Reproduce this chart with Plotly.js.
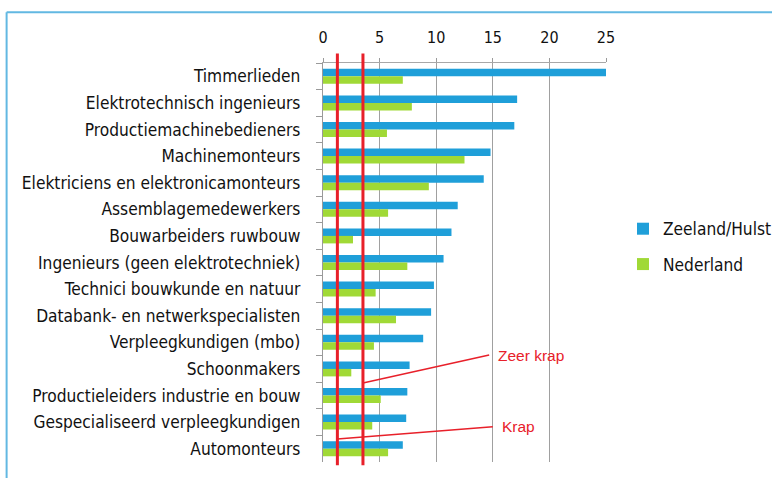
<!DOCTYPE html>
<html>
<head>
<meta charset="utf-8">
<script src="https://cdn.plot.ly/plotly-3.0.1.min.js"></script>
<style>
  html, body { margin: 0; padding: 0; background: #ffffff; }
  #chart { width: 772px; height: 478px; }
</style>
</head>
<body>
<div id="chart"></div>
<script>
const beroepen = [
  'Timmerlieden',
  'Elektrotechnisch ingenieurs',
  'Productiemachinebedieners',
  'Machinemonteurs',
  'Elektriciens en elektronicamonteurs',
  'Assemblagemedewerkers',
  'Bouwarbeiders ruwbouw',
  'Ingenieurs (geen elektrotechniek)',
  'Technici bouwkunde en natuur',
  'Databank- en netwerkspecialisten',
  'Verpleegkundigen (mbo)',
  'Schoonmakers',
  'Productieleiders industrie en bouw',
  'Gespecialiseerd verpleegkundigen',
  'Automonteurs'
];

const zeelandHulst = [25.0, 17.15, 16.9, 14.8, 14.2, 11.9, 11.35, 10.65, 9.8, 9.55, 8.85, 7.65, 7.45, 7.35, 7.05];
const nederland = [7.05, 7.85, 5.65, 12.5, 9.35, 5.75, 2.65, 7.45, 4.65, 6.45, 4.5, 2.5, 5.1, 4.35, 5.75];

const xTicks = [0, 5, 10, 15, 20, 25];

// drempels voor krapte (rode lijnen)
const grensKrap = 1.27;
const grensZeerKrap = 3.53;

const labelFont = "'DejaVu Sans Condensed', 'Liberation Sans Narrow', sans-serif";
const red = '#e8202a';

const traces = [
  {
    type: 'bar',
    orientation: 'h',
    name: 'Zeeland/Hulst',
    y: beroepen,
    x: zeelandHulst,
    legendgroup: 'a',
    marker: { color: '#1f9fd9' },
    hoverinfo: 'x+y'
  },
  {
    type: 'bar',
    orientation: 'h',
    name: 'Nederland',
    y: beroepen,
    x: nederland,
    legendgroup: 'b',
    marker: { color: '#a0d936' },
    hoverinfo: 'x+y'
  }
];

const frameColor = '#62b8e2';

const layout = {
  width: 772,
  height: 478,
  margin: { l: 323, r: 166, t: 63, b: 16, autoexpand: false },
  paper_bgcolor: '#ffffff',
  plot_bgcolor: '#ffffff',
  barmode: 'group',
  bargap: 0.436,
  bargroupgap: 0,
  showlegend: true,
  legend: {
    x: 1.06,
    y: 0.629,
    xanchor: 'left',
    yanchor: 'top',
    traceorder: 'grouped',
    tracegroupgap: 10,
    font: { family: labelFont, size: 17.2, color: '#111111' },
    bgcolor: 'rgba(0,0,0,0)'
  },
  xaxis: {
    side: 'top',
    range: [0, 25],
    tickvals: xTicks,
    ticktext: xTicks.map(String),
    ticks: 'outside',
    ticklen: 4,
    tickcolor: '#9a9a9a',
    ticklabelstandoff: 9,
    showline: true,
    linecolor: '#a8a8a8',
    linewidth: 1,
    showgrid: true,
    gridcolor: '#a0a0a0',
    gridwidth: 1.2,
    zeroline: false,
    tickfont: { family: labelFont, size: 16, color: '#111111' },
    fixedrange: true
  },
  yaxis: {
    autorange: 'reversed',
    type: 'category',
    tickson: 'boundaries',
    ticks: 'outside',
    ticklen: 6,
    tickcolor: '#9a9a9a',
    ticklabelstandoff: 18,
    showline: true,
    linecolor: '#9a9a9a',
    linewidth: 1.2,
    showgrid: false,
    zeroline: false,
    tickfont: { family: labelFont, size: 17.2, color: '#111111' },
    fixedrange: true
  },
  shapes: [
    // kader van de dia
    { type: 'line', xref: 'paper', yref: 'paper', x0: -1.118, x1: -1.118, y0: 1.127, y1: -0.05, line: { color: frameColor, width: 2 }, layer: 'below' },
    { type: 'line', xref: 'paper', yref: 'paper', x0: -1.118, x1: 1.6, y0: 1.127, y1: 1.127, line: { color: frameColor, width: 2 }, layer: 'below' },
    // drempels
    { type: 'line', xref: 'x', yref: 'paper', x0: grensKrap, x1: grensKrap, y0: -0.008, y1: 1.024, line: { color: red, width: 3 } },
    { type: 'line', xref: 'x', yref: 'paper', x0: grensZeerKrap, x1: grensZeerKrap, y0: -0.008, y1: 1.024, line: { color: red, width: 3 } },
    // verwijslijnen
    { type: 'line', xref: 'x', yref: 'paper', x0: grensZeerKrap, x1: 14.68, y0: 0.198, y1: 0.268, line: { color: red, width: 1.5 } },
    { type: 'line', xref: 'x', yref: 'paper', x0: grensKrap, x1: 15.0, y0: 0.0576, y1: 0.0885, line: { color: red, width: 1.5 } }
  ],
  annotations: [
    {
      xref: 'x', yref: 'paper', x: 15.3, y: 0.268, xanchor: 'left', yanchor: 'middle',
      text: 'Zeer krap', showarrow: false,
      font: { family: "'Liberation Sans', Arial, sans-serif", size: 15.5, color: red }
    },
    {
      xref: 'x', yref: 'paper', x: 15.65, y: 0.0885, xanchor: 'left', yanchor: 'middle',
      text: 'Krap', showarrow: false,
      font: { family: "'Liberation Sans', Arial, sans-serif", size: 15.5, color: red }
    }
  ]
};

Plotly.newPlot('chart', traces, layout, { displayModeBar: false, staticPlot: true });
</script>
</body>
</html>
